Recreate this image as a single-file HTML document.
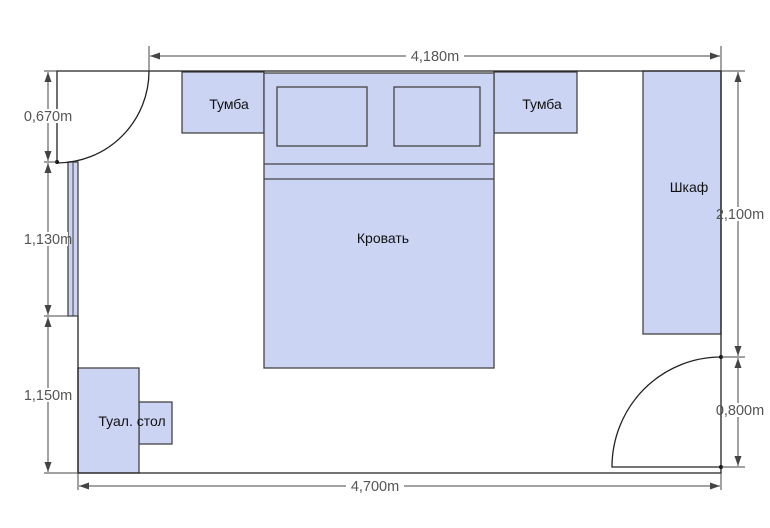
<!DOCTYPE html>
<html><head><meta charset="utf-8"><style>
html,body{margin:0;padding:0;background:#fff;width:770px;height:528px;overflow:hidden}
svg{display:block}
text{font-family:"Liberation Sans",sans-serif;font-size:14px}
.d{fill:#555}
.d text{font-size:14.5px}
.l{fill:#111}
.f{fill:#ccd4f4;stroke:#444;stroke-width:1.3}
</style></head><body>
<svg width="770" height="528" viewBox="0 0 770 528">
<defs>
<marker id="a" viewBox="0 0 10 10" refX="10" refY="5" markerWidth="10" markerHeight="10" orient="auto-start-reverse" markerUnits="userSpaceOnUse"><path d="M0,1.5 L10,5 L0,8.5z" fill="#444"/></marker>
</defs>
<rect class="f" x="182" y="72" width="82" height="61"/>
<rect class="f" x="494" y="72" width="83" height="61"/>
<rect class="f" x="264" y="73" width="230" height="295"/>
<rect class="f" x="277" y="87" width="90" height="59"/>
<rect class="f" x="394" y="87" width="86" height="59"/>
<line x1="264" y1="164" x2="494" y2="164" stroke="#444" stroke-width="1.3"/>
<line x1="264" y1="179" x2="494" y2="179" stroke="#444" stroke-width="1.3"/>
<rect class="f" x="643" y="71" width="78" height="263"/>
<rect class="f" x="139" y="402" width="33" height="42"/>
<rect class="f" x="78" y="368" width="61" height="105"/>
<rect class="f" x="68" y="162" width="10" height="154"/>
<line x1="73" y1="162" x2="73" y2="316" stroke="#444" stroke-width="1"/>
<g stroke="#222" stroke-width="1.3" fill="none">
<polyline points="57,162 57,71 721,71 721,473 78,473 78,316"/>
<path d="M149,71 A92,92 0 0 1 57,163"/>
<path d="M721,357 A109,110 0 0 0 612,467 L721,467"/>
</g>
<circle cx="57" cy="162" r="2" fill="#111"/>
<circle cx="721" cy="357" r="2" fill="#111"/>
<circle cx="721" cy="467" r="2" fill="#111"/>
<g stroke="#444" stroke-width="1" fill="none">
<line x1="149" y1="46" x2="149" y2="71"/>
<line x1="721" y1="46" x2="721" y2="71"/>
<line x1="150" y1="56" x2="720" y2="56" marker-start="url(#a)" marker-end="url(#a)"/>
<line x1="78" y1="473" x2="78" y2="490"/>
<line x1="721" y1="473" x2="721" y2="490"/>
<line x1="79" y1="486" x2="720" y2="486" marker-start="url(#a)" marker-end="url(#a)"/>
<line x1="44" y1="71" x2="57" y2="71"/>
<line x1="44" y1="162" x2="57" y2="162"/>
<line x1="44" y1="316" x2="78" y2="316"/>
<line x1="44" y1="473" x2="78" y2="473"/>
<line x1="48" y1="72" x2="48" y2="161" marker-start="url(#a)" marker-end="url(#a)"/>
<line x1="48" y1="163" x2="48" y2="315" marker-start="url(#a)" marker-end="url(#a)"/>
<line x1="48" y1="317" x2="48" y2="472" marker-start="url(#a)" marker-end="url(#a)"/>
<line x1="721" y1="71" x2="745" y2="71"/>
<line x1="721" y1="357" x2="745" y2="357"/>
<line x1="721" y1="467" x2="745" y2="467"/>
<line x1="738" y1="72" x2="738" y2="356" marker-start="url(#a)" marker-end="url(#a)"/>
<line x1="738" y1="358" x2="738" y2="466" marker-start="url(#a)" marker-end="url(#a)"/>
</g>
<g class="d">
<rect x="406" y="49" width="58" height="14" fill="#fff"/>
<text x="435" y="61" text-anchor="middle">4,180m</text>
<rect x="346" y="479" width="58" height="14" fill="#fff"/>
<text x="375" y="491" text-anchor="middle">4,700m</text>
<rect x="24" y="109" width="48" height="14" fill="#fff"/>
<text x="48" y="121" text-anchor="middle">0,670m</text>
<rect x="24" y="232" width="44" height="14" fill="#fff"/>
<text x="48" y="244" text-anchor="middle">1,130m</text>
<rect x="24" y="388" width="48" height="14" fill="#fff"/>
<text x="48" y="400" text-anchor="middle">1,150m</text>
<rect x="726" y="207" width="36" height="14" fill="#fff"/>
<text x="740" y="219" text-anchor="middle">2,100m</text>
<rect x="726" y="403" width="36" height="14" fill="#fff"/>
<text x="740" y="415" text-anchor="middle">0,800m</text>
</g>
<g class="l">
<text x="229" y="109" text-anchor="middle">Тумба</text>
<text x="542" y="109" text-anchor="middle">Тумба</text>
<text x="383" y="243" text-anchor="middle">Кровать</text>
<text x="689" y="192" text-anchor="middle">Шкаф</text>
<text x="132" y="426" text-anchor="middle">Туал. стол</text>
</g>
</svg>
</body></html>
